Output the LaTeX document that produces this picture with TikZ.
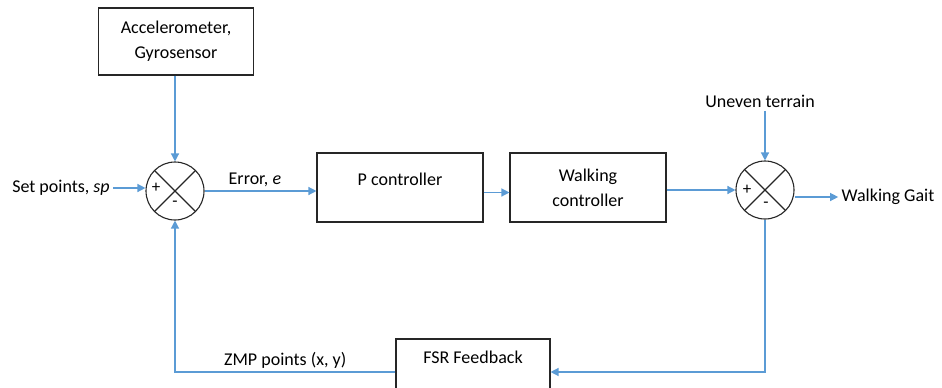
\documentclass[tikz,border=0pt]{standalone}
\usepackage{fontspec}
\setmainfont{Carlito}
\usetikzlibrary{arrows.meta,positioning}
\definecolor{lineblue}{RGB}{91,155,213}

\begin{document}
\begin{tikzpicture}[x=1pt, y=-1pt,
            every node/.style={font=\fontsize{18}{25}\selectfont},
            blockbox/.style={rectangle, draw=black!85, line width=1.1pt, inner sep=0pt},
            sumcirc/.style={circle, draw=black!85, line width=1.1pt, minimum size=58pt, inner sep=0pt,
                path picture={\draw[black!85, line width=1.1pt]
                    (path picture bounding box.north west) -- (path picture bounding box.south east)
                    (path picture bounding box.north east) -- (path picture bounding box.south west);}},
            sign/.style={font=\fontsize{17}{19}\selectfont, inner sep=0pt},
            flow/.style={draw=lineblue, line width=1.3pt, -{Triangle[width=8pt,length=8pt]}}
        ]
        \useasboundingbox (0,0) rectangle (942,388);
        % blocks
        \node[blockbox, minimum width=155pt, minimum height=67pt, align=center] (acc) at (176,41.5) {Accelerometer,\\Gyrosensor};
        \node[blockbox, minimum width=166pt, minimum height=69pt] (pctrl) at (400,187.5) {};
        \node (ptext) at (400,179) {P controller};
        \node[blockbox, minimum width=156pt, minimum height=69pt, align=center] (walk) at (588,187.5) {Walking\\controller};
        \node[blockbox, minimum width=154pt, minimum height=66pt] (fsr) at (473,372) {};
        \node (fsrtext) at (473,357) {FSR Feedback};
        % summing junctions
        \node[sumcirc] (sum1) at (175,191) {};
        \node[sign] (sum1p) at ([shift={(-19,-3)}]sum1.center) {+};
        \node[sign] (sum1m) at ([shift={(0,13)}]sum1.center) {-};
        \node[sumcirc] (sum2) at (765,190) {};
        \node[sign] (sum2p) at ([shift={(-18,0)}]sum2.center) {+};
        \node[sign] (sum2m) at ([shift={(1,15)}]sum2.center) {-};
        % outer labels
        \node (sp) at (61,188) {Set points, \textit{sp}};
        \node (terrain) at (760,101) {Uneven terrain};
        \node (gait) at (888,197) {Walking Gait};
        % signals
        \draw[flow] (acc.south -| sum1) -- (sum1.north);
        \draw[flow] (sp.east) -- (sp.east -| sum1.west);
        \draw[flow] (sum1.east) -- node[above, pos=0.45] (err) {Error, \textit{e}} (sum1.east -| pctrl.west);
        \draw[flow] ([yshift=-5pt]pctrl.east) -- ([yshift=-5pt]walk.west);
        \draw[flow] (walk.east |- sum2.west) -- (sum2.west);
        \draw[flow] (terrain.south -| sum2) -- (sum2.north);
        \draw[flow] (sum2.east |- gait.west) -- (gait.west);
        \draw[flow] (sum2.south) |- (fsr.east);
        \draw[flow] (fsr.west) -| node[above, pos=0.25] (zmp) {ZMP points (x, y)} (sum1.south);
\end{tikzpicture}
\end{document}
